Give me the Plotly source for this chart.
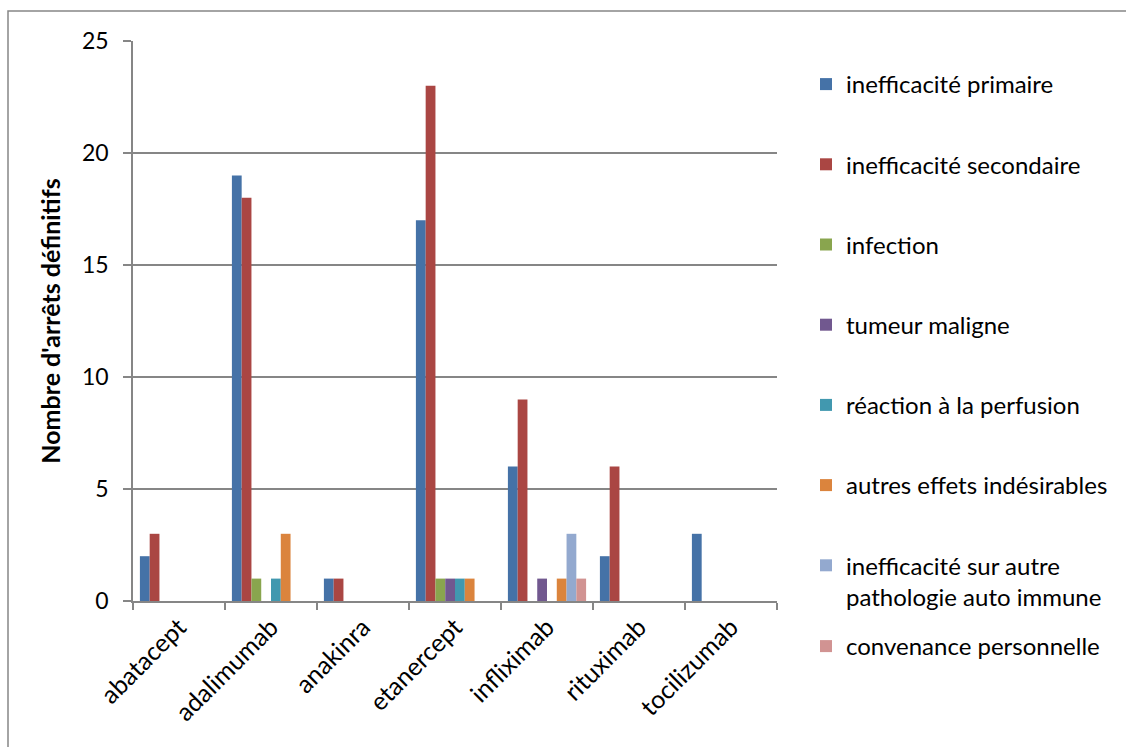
import plotly.graph_objects as go

# Biothérapies et nombre d'arrêts définitifs par motif
drugs = ["abatacept", "adalimumab", "anakinra", "etanercept",
         "infliximab", "rituximab", "tocilizumab"]

reasons = [
    "inefficacité primaire",
    "inefficacité secondaire",
    "infection",
    "tumeur maligne",
    "réaction à la perfusion",
    "autres effets indésirables",
    "inefficacité sur autre<br>pathologie auto immune",
    "convenance personnelle",
]

ineff_primaire = [2, 19, 1, 17, 6, 2, 3]
ineff_secondaire = [3, 18, 1, 23, 9, 6, 0]
infection = [0, 1, 0, 1, 0, 0, 0]
tumeur = [0, 0, 0, 1, 1, 0, 0]
reaction_perfusion = [0, 1, 0, 1, 0, 0, 0]
autres_effets = [0, 3, 0, 1, 1, 0, 0]
ineff_autre_patho = [0, 0, 0, 0, 3, 0, 0]
convenance = [0, 0, 0, 0, 1, 0, 0]

series = [ineff_primaire, ineff_secondaire, infection, tumeur,
          reaction_perfusion, autres_effets, ineff_autre_patho, convenance]

colors = ["#4572A7", "#AA4643", "#89A54E", "#71588F",
          "#4198AF", "#DB843D", "#93A9CF", "#D19392"]

y_ticks = [0, 5, 10, 15, 20, 25]

W, H = 1126, 747
PL, PR, PT, PB = 133, 777, 41, 601   # plot area in pixels
FONT = "Lato"
GRID = "#868686"
LEG_SIZE = 24


def px_x(p):
    return (p - PL) / (PR - PL)


def px_y(p):
    return (PB - p) / (PB - PT)


fig = go.Figure()
for i, (name, vals, col) in enumerate(zip(reasons, series, colors)):
    fig.add_trace(go.Bar(
        x=drugs, y=vals, name=name,
        marker=dict(color=col, line=dict(width=0)),
        legendgroup=f"g{i}",
        legend="legend2" if i == len(reasons) - 1 else "legend",
    ))

fig.update_layout(
    width=W, height=H,
    margin=dict(l=PL, r=W - PR, t=PT, b=H - PB, autoexpand=False),
    paper_bgcolor="white", plot_bgcolor="white",
    barmode="group", bargap=0.15, bargroupgap=0,
    font=dict(family=FONT, color="black"),
    legend=dict(
        x=px_x(806), y=px_y(62), xanchor="left", yanchor="top",
        font=dict(family=FONT, size=LEG_SIZE, color="black"),
        tracegroupgap=46, valign="top", bgcolor="rgba(0,0,0,0)",
    ),
    legend2=dict(
        x=px_x(806), y=px_y(624), xanchor="left", yanchor="top",
        font=dict(family=FONT, size=LEG_SIZE, color="black"),
        valign="top", bgcolor="rgba(0,0,0,0)",
    ),
    showlegend=True,
)

fig.update_xaxes(
    type="category", tickangle=-45,
    tickfont=dict(family=FONT, size=25, color="black"),
    showline=True, linecolor=GRID, linewidth=1.5,
    ticks="outside", tickson="boundaries", ticklen=7,
    tickcolor=GRID, tickwidth=1.5,
    showgrid=False, automargin=False,
)

fig.update_yaxes(
    range=[0, 25], tickvals=y_ticks,
    tickfont=dict(family=FONT, size=23, color="black"),
    showline=True, linecolor=GRID, linewidth=1.5,
    ticks="outside", ticklen=8, tickcolor=GRID, tickwidth=1.5,
    ticklabelstandoff=10,
    showgrid=True, gridcolor=GRID, gridwidth=1.5,
    zeroline=False, automargin=False,
    title=dict(text="<b>Nombre d'arrêts définitifs</b>",
               font=dict(family=FONT, size=25, color="black"),
               standoff=14),
)

# chart area frame: left and top edges (the rest runs off the page)
fig.add_shape(
    type="path", xref="paper", yref="paper",
    path=f"M {px_x(8)},{px_y(760)} L {px_x(8)},{px_y(11)} L {px_x(1130)},{px_y(11)}",
    line=dict(color=GRID, width=1.5), layer="below",
)

fig.write_html("out.html")
